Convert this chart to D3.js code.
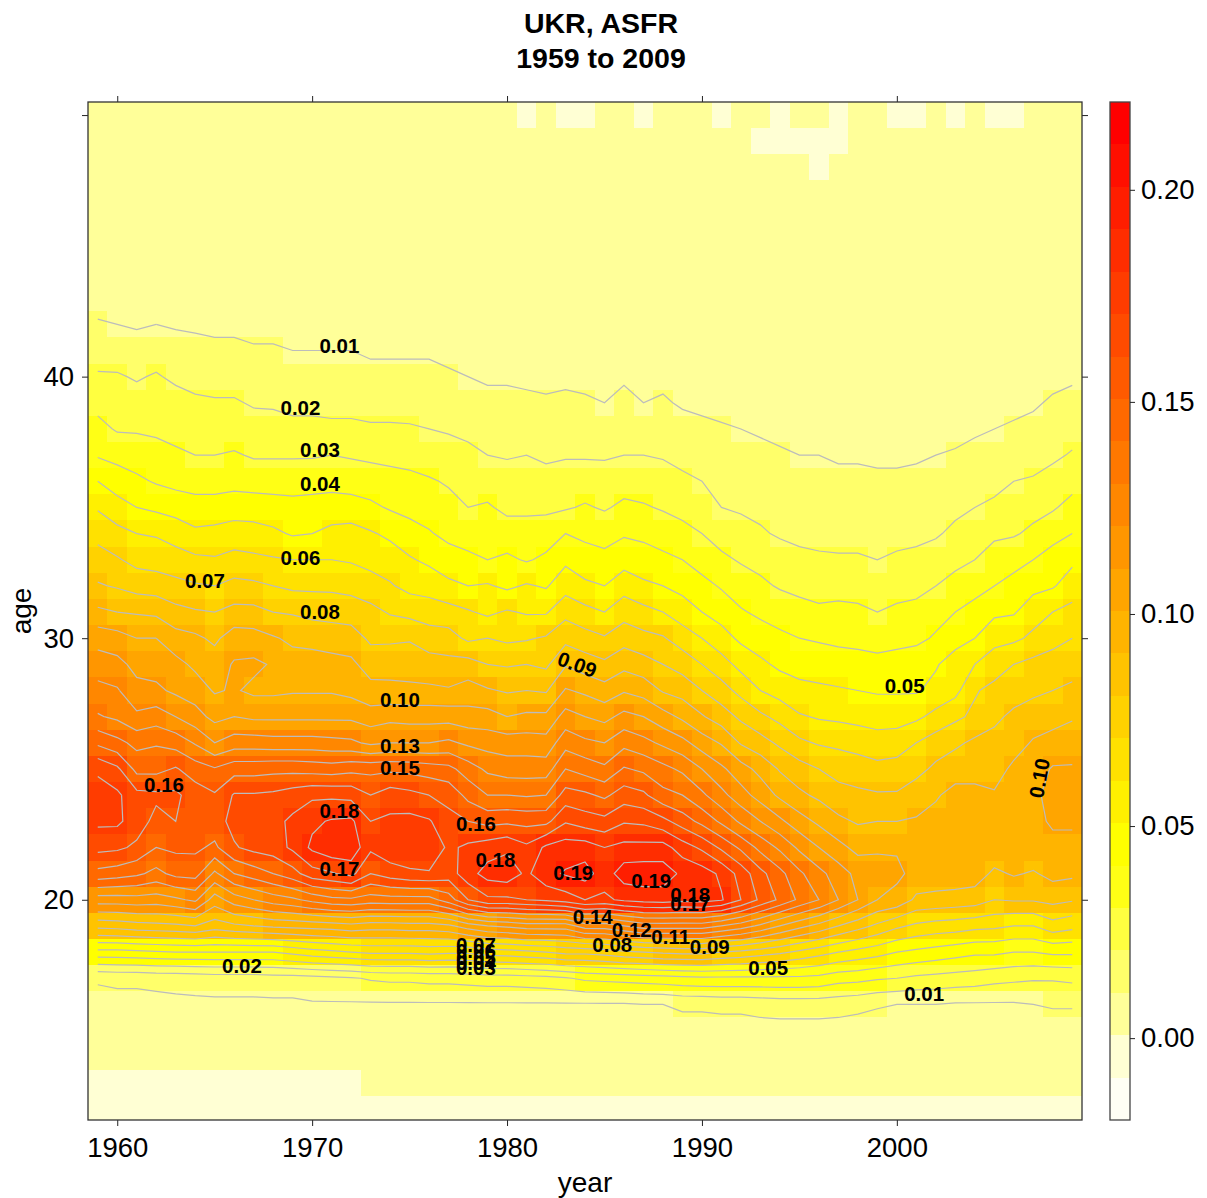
<!DOCTYPE html>
<html>
<head>
<meta charset="utf-8">
<script src="https://cdn.jsdelivr.net/npm/d3@7"></script>
<style>
  body { margin: 0; background: #fff; }
  text { font-family: "Liberation Sans", Arial, sans-serif; fill: #000; }
  .tick line { stroke: #222; }
</style>
</head>
<body>
<div id="chart"></div>
<script>
// years on x, ages on y
const years = d3.range(1959, 2010);
const ages = d3.range(12, 51);

// ASFR, births per 1000 women. one row per age, 1959..2009
const age12 = [0,0,0,0,0,0,0,0,0,0, 0,0,0,0,0,0,0,0,0,0, 0,0,0,0,0,0,0,0,0,0, 0,0,0,0,0,0,0,0,0,0, 0,0,0,0,0,0,0,0,0,0, 0];
const age13 = [0,0,0,0,0,0,0,0,0,0, 0,0,0,0,1,1,1,1,1,1, 1,1,1,1,1,1,1,1,1,1, 1,1,1,1,1,1,1,1,1,1, 1,1,1,1,1,1,1,1,1,1, 1];
const age14 = [2,2,2,2,2,2,2,2,2,2, 2,2,2,2,2,2,2,2,2,2, 2,2,2,2,2,2,2,2,2,2, 3,3,3,3,3,3,3,3,3,3, 3,3,3,3,3,3,3,3,3,3, 3];
const age15 = [3,3,3,3,3,3,4,4,4,4, 4,4,4,4,4,4,4,4,4,4, 4,4,4,4,4,4,4,4,5,5, 5,5,5,5,6,6,6,6,6,5, 5,5,5,5,5,5,5,5,5,5, 5];
const age16 = [7,7,7,7,8,8,8,8,8,8, 8,9,9,9,9,9,9,9,9,9, 9,9,9,9,9,9,9,9,10,10, 12,12,13,13,14,15,15,15,14,13, 11,10,10,10,9,9,9,9,10,11, 11];
const age17 = [11,12,12,13,13,14,15,15,15,16, 16,17,18,19,21,22,22,23,23,24, 25,25,26,27,29,32,33,34,35,36, 37,38,38,38,38,38,38,37,34,33, 31,30,28,27,26,25,23,22,21,21, 22];
const age18 = [47,47,48,49,50,50,50,50,50,50, 53,56,58,60,62,62,62,63,62,62, 65,66,68,70,73,73,75,78,80,82, 83,83,80,78,75,72,68,64,60,57, 54,50,48,46,44,42,42,40,40,42, 42];
const age19 = [83,84,86,87,88,90,85,88,90,92, 93,94,95,97,95,95,96,96,98,105, 110,112,115,115,115,125,125,130,135,135, 135,135,130,125,118,110,103,97,90,84, 78,72,68,66,65,63,62,60,60,66, 63];
const age20 = [115,115,116,115,118,122,105,115,120,125, 128,133,137,138,135,136,136,136,145,160, 168,168,170,172,175,180,178,182,184,185, 183,184,181,170,158,148,138,130,120,110, 100,97,88,87,86,85,80,81,81,83, 81];
const age21 = [147,145,142,137,143,144,128,140,145,150, 156,166,169,173,160,165,168,169,165,176, 184,186,178,187,191,194,185,195,196,195, 188,185,178,166,153,143,132,123,115,107, 103,102,97,96,96,95,88,91,89,93, 92];
const age22 = [163,162,158,150,152,152,148,159,163,165, 172,182,187,187,172,177,178,178,168,172, 175,178,172,182,185,185,180,183,183,184, 175,168,158,148,137,128,118,110,103,97, 99,99,97,96,96,96,97,97,97,98, 98];
const age23 = [172,172,165,157,160,157,156,163,164,167, 172,178,181,182,170,172,173,171,163,160, 157,158,157,157,169,165,163,169,168,163, 155,147,138,128,120,112,104,98,92,89, 90,90,91,93,95,95,95,97,98,101, 101];
const age24 = [175,172,163,162,162,155,151,161,161,162, 165,168,168,167,160,165,163,160,157,147, 140,140,139,140,154,152,148,155,152,143, 140,132,123,114,106,98,92,88,84,82, 81,81,85,89,93,93,91,96,98,103, 103];
const age25 = [168,162,147,147,151,145,141,146,146,147, 147,146,145,147,147,148,147,145,143,135, 128,125,125,125,140,136,132,141,138,133, 128,120,112,104,97,89,84,80,76,75, 73,74,77,82,86,86,86,92,95,101, 101];
const age26 = [148,143,137,139,136,129,120,125,125,124, 124,124,123,122,118,120,120,120,122,118, 116,115,115,114,126,122,120,127,123,118, 113,105,99,89,84,78,72,69,68,66, 64,65,70,75,78,82,83,86,91,93, 95];
const age27 = [131,128,122,125,120,114,107,110,108,108, 108,108,108,108,105,107,106,106,106,104, 104,100,102,102,114,110,107,113,110,104, 98,91,85,78,72,67,61,59,58,57, 56,56,58,63,68,72,78,82,85,87, 89];
const age28 = [123,121,113,112,108,105,99,101,98,98, 99,99,99,97,93,92,92,92,91,94, 91,89,90,89,101,98,94,99,96,89, 86,80,74,67,60,56,53,52,51,50, 49,49,49,53,57,69,73,76,78,80, 82];
const age29 = [115,113,107,106,103,98,95,101,102,99, 94,94,93,92,86,87,86,84,83,84, 80,79,80,78,89,85,82,87,84,80, 76,70,64,57,52,48,46,45,44,44, 43,44,45,49,55,60,65,70,73,74, 76];
const age30 = [106,104,100,100,94,92,88,95,94,91, 88,87,86,85,78,78,79,75,74,68, 70,68,69,71,77,74,71,76,73,71, 65,60,54,48,45,42,40,39,38,37, 36,37,38,41,46,50,57,58,62,67, 70];
const age31 = [92,90,89,88,83,81,80,83,83,80, 79,77,76,75,73,69,67,65,64,61, 58,61,59,59,67,63,60,66,63,60, 55,50,46,41,38,36,34,32,33,32, 30,32,33,37,40,43,48,49,56,60, 63];
const age32 = [81,79,76,75,73,71,70,73,72,70, 68,68,68,67,64,61,57,56,52,50, 51,48,51,49,56,52,50,56,52,50, 47,43,39,35,32,29,27,26,26,26, 25,26,27,30,34,37,40,43,47,49, 55];
const age33 = [74,71,67,66,64,62,61,63,62,61, 60,60,60,59,57,55,51,48,45,43, 40,42,39,42,48,44,43,46,44,42, 40,36,32,29,27,24,22,21,21,21, 20,21,22,24,27,30,35,37,40,45, 48];
const age34 = [67,63,60,59,56,52,53,55,54,52, 49,50,53,54,51,48,44,41,37,34, 35,34,34,35,40,38,36,39,38,36, 33,30,26,23,21,19,18,18,17,17, 17,18,18,19,22,25,28,29,32,36, 40];
const age35 = [59,54,50,48,46,44,44,45,45,44, 43,43,44,44,42,39,37,35,33,30, 31,28,28,28,29,31,29,32,31,29, 27,25,20,19,18,17,16,15,15,15, 14,14,15,16,18,20,22,25,27,29, 33];
const age36 = [50,45,42,39,37,36,36,37,36,36, 36,37,37,36,35,34,33,31,29,27, 26,25,26,24,25,25,24,26,25,25, 22,20,18,17,16,15,14,13,12,12, 11,11,12,13,14,16,17,20,21,24, 27];
const age37 = [39,37,35,34,32,30,30,31,29,29, 29,29,30,29,28,27,26,25,24,22, 20,19,20,18,19,19,19,20,20,19, 17,15,14,13,12,11,10,10,9,9, 9,9,9,10,11,12,13,15,16,18, 21];
const age38 = [33,29,29,28,26,25,25,25,24,23, 22,22,22,22,21,21,21,20,19,18, 16,16,16,15,15,15,15,16,15,15, 13,12,11,10,9,8,7,7,6,6, 6,6,6,7,7,9,10,11,12,14, 16];
const age39 = [27,26,24,25,24,22,21,21,19,19, 18,18,17,17,17,17,16,16,15,13, 12,12,12,11,12,11,10,12,10,11, 9,8,7,7,6,6,5,5,5,4, 4,4,4,5,5,6,7,8,9,11, 12];
const age40 = [21,21,19,21,18,16,16,16,15,14, 13,13,13,13,12,12,12,12,11,10, 9,9,8,8,8,8,7,9,8,8, 7,6,6,5,5,4,4,4,3,3, 3,3,3,3,4,5,5,6,7,8, 9];
const age41 = [16,15,14,15,14,12,12,12,11,11, 10,10,10,10,9,9,9,9,8,7, 7,6,6,6,6,6,5,6,5,5, 5,4,4,3,3,3,3,2,2,2, 2,2,2,2,3,3,3,4,4,5, 6];
const age42 = [11,10,9,10,9,9,8,8,7,7, 7,7,7,7,6,6,6,6,5,5, 4,4,4,4,4,4,3,4,3,3, 3,3,3,2,2,2,2,2,2,1, 1,1,1,1,2,2,2,2,2,3, 3];
const age43 = [6,6,6,6,6,5,5,5,4,4, 4,4,4,4,4,4,4,3,3,2, 2,2,2,2,2,2,2,2,2,2, 2,2,2,1,1,1,1,1,1,1, 1,1,1,1,1,1,1,1,1,2, 2];
const age44 = [3,3,3,3,3,3,3,3,3,3, 2,2,2,2,2,2,2,2,2,2, 2,2,2,1,1,1,1,1,1,1, 1,1,1,1,1,1,1,1,1,1, 1,1,1,1,1,1,1,1,1,1, 1];
const age45 = [2,2,2,2,2,2,2,2,2,2, 1,1,1,1,1,1,1,1,1,1, 1,1,1,1,1,1,1,1,1,1, 1,1,1,1,1,1,1,1,1,1, 1,1,1,1,1,1,1,1,1,1, 1];
const age46 = [1,1,1,1,1,1,1,1,1,1, 1,1,1,1,1,1,1,1,1,1, 1,1,1,1,1,1,1,1,1,1, 1,1,1,1,1,1,1,1,1,1, 1,1,1,1,1,1,1,1,1,1, 1];
const age47 = [1,1,1,1,1,1,1,1,1,1, 1,1,1,1,1,1,1,1,1,1, 1,1,1,1,1,1,1,1,1,1, 1,1,1,1,1,1,1,1,1,1, 1,1,1,1,1,1,1,1,1,1, 1];
const age48 = [1,1,1,1,1,1,1,1,1,1, 1,1,1,1,1,1,1,1,1,1, 1,1,1,1,1,1,1,1,1,1, 1,1,1,1,1,1,1,0,1,1, 1,1,1,1,1,1,1,1,1,1, 1];
const age49 = [1,1,1,1,1,1,1,1,1,1, 1,1,1,1,1,1,1,1,1,1, 1,1,1,1,1,1,1,1,1,1, 1,1,1,1,0,0,0,0,0,1, 1,1,1,1,1,1,1,1,1,1, 1];
const age50 = [1,1,1,1,1,1,1,1,1,1, 1,1,1,1,1,1,1,1,1,1, 1,1,0,1,0,0,1,1,0,1, 1,1,0,1,1,0,1,1,0,1, 1,0,0,1,0,1,0,0,1,1, 1];

const asfrRows = [age12, age13, age14, age15, age16, age17, age18, age19, age20, age21, age22, age23, age24,
  age25, age26, age27, age28, age29, age30, age31, age32, age33, age34, age35, age36, age37, age38, age39,
  age40, age41, age42, age43, age44, age45, age46, age47, age48, age49, age50];

const contourLevels = [0.01, 0.02, 0.03, 0.04, 0.05, 0.06, 0.07, 0.08, 0.09, 0.10,
  0.11, 0.12, 0.13, 0.14, 0.15, 0.16, 0.17, 0.18, 0.19];

// colour bands, bottom of the colour key to the top
const bandColors = ["#FFFFF4", "#FFFFD4", "#FFFF99", "#FFFF6A", "#FFFF40", "#FFFF15", "#FFFF00", "#FFF000",
  "#FFE100", "#FFD200", "#FFC300", "#FFB400", "#FFA500", "#FF9600", "#FF8700", "#FF7800", "#FF6900",
  "#FF5A00", "#FF4B00", "#FF3C00", "#FF2D00", "#FF1E00", "#FF0F00", "#FF0000"];

// the labels R put on the contours
const labelText = ["0.01","0.02","0.03","0.04","0.06","0.07","0.08","0.09","0.10","0.13","0.15","0.16","0.18","0.17",
  "0.16","0.18","0.19","0.19","0.18","0.17","0.14","0.12","0.11","0.08","0.09","0.05","0.01","0.02","0.05","0.10",
  "0.07","0.06","0.05","0.04","0.03"];
const labelYear = [1971.4,1969.4,1970.4,1970.4,1969.4,1964.5,1970.4,1983.6,1974.5,1974.5,1974.5,1962.4,1971.4,1971.4,
  1978.4,1979.4,1983.4,1987.4,1989.4,1989.4,1984.4,1986.4,1988.4,1985.4,1990.4,1993.4,2001.4,1966.4,2000.4,2007.3,
  1978.4,1978.4,1978.4,1978.4,1978.4];
const labelAge = [41.2,38.8,37.2,35.9,33.1,32.2,31,29,27.65,25.9,25.05,24.4,23.4,21.2,
  22.9,21.55,21.05,20.75,20.2,19.85,19.35,18.85,18.6,18.3,18.2,17.4,16.4,17.5,28.2,24.65,
  18.3,18.05,17.8,17.6,17.4];
const labelAngle = {7: 20, 29: -80};

const svgWidth = 1207, svgHeight = 1198;
const plot = { left: 88, right: 1082, top: 102, bottom: 1120 };
const key = { left: 1110, right: 1130 };

const svg = d3.select("#chart").append("svg")
  .attr("width", svgWidth)
  .attr("height", svgHeight);

const x = d3.scaleLinear().domain([1958.5, 2009.5]).range([plot.left, plot.right]);
const y = d3.scaleLinear().domain([11.58, 50.5]).range([plot.bottom, plot.top]);
const keyY = d3.scaleLinear().domain([-0.0193, 0.2207]).range([plot.bottom, plot.top]);
const color = d3.scaleQuantize().domain(keyY.domain()).range(bandColors);

svg.append("defs").append("clipPath").attr("id", "plotClip")
  .append("rect")
  .attr("x", plot.left).attr("y", plot.top)
  .attr("width", plot.right - plot.left).attr("height", plot.bottom - plot.top);

// heat cells
const cells = [];
asfrRows.forEach((row, j) => row.forEach((v, i) => cells.push({ year: years[i], age: ages[j], value: v / 1000 })));

svg.append("g").attr("clip-path", "url(#plotClip)")
  .selectAll("rect").data(cells).enter().append("rect")
  .attr("x", d => x(d.year - 0.5))
  .attr("y", d => y(d.age + 0.5))
  .attr("width", d => x(d.year + 0.5) - x(d.year - 0.5))
  .attr("height", d => y(d.age - 0.5) - y(d.age + 0.5))
  .attr("shape-rendering", "crispEdges")
  .attr("fill", d => color(d.value));

// contour lines, the rings d3 closes along the grid edge have to be opened again
const nx = years.length, ny = ages.length;
const contours = d3.contours().size([nx, ny]).thresholds(contourLevels)(cells.map(d => d.value));

const line = d3.line().x(p => x(years[0] + p[0] - 0.5)).y(p => y(ages[0] + p[1] - 0.5));
const isInside = p => p[0] >= 0.5 && p[0] <= nx - 0.5 && p[1] >= 0.5 && p[1] <= ny - 0.5;

const pieces = [];
contours.forEach(c => {
  c.coordinates.forEach(poly => poly.forEach(ring => {
    let cur = [];
    ring.forEach(p => {
      if (isInside(p)) {
        cur.push(p);
      } else {
        if (cur.length > 1) pieces.push(cur);
        cur = [];
      }
    });
    if (cur.length > 1) pieces.push(cur);
  }));
});

svg.append("g").selectAll("path").data(pieces).enter().append("path")
  .attr("d", line)
  .attr("fill", "none")
  .attr("stroke", "#bcbcbc")
  .attr("stroke-width", 1.2);

// contour labels
svg.append("g").selectAll("text").data(labelText).enter().append("text")
  .attr("transform", (d, i) => `translate(${x(labelYear[i])},${y(labelAge[i])}) rotate(${labelAngle[i] || 0})`)
  .attr("text-anchor", "middle")
  .attr("dy", "0.36em")
  .style("font-size", "20.5px")
  .style("font-weight", "bold")
  .text(d => d);

// axes on all four sides, labels only bottom and left
const tickYears = [1960, 1970, 1980, 1990, 2000];
const tickAges = [20, 30, 40, 50];
const tickSize = 6;

const styleAxis = g => {
  g.select(".domain").remove();
  g.selectAll("text").style("font-size", "27.5px");
};

svg.append("g").attr("transform", `translate(0,${plot.bottom})`)
  .call(d3.axisBottom(x).tickValues(tickYears).tickSize(tickSize).tickPadding(11).tickFormat(d3.format("d")))
  .call(styleAxis);
svg.append("g").attr("transform", `translate(0,${plot.top})`)
  .call(d3.axisTop(x).tickValues(tickYears).tickSize(tickSize).tickFormat(""))
  .call(styleAxis);
svg.append("g").attr("transform", `translate(${plot.left},0)`)
  .call(d3.axisLeft(y).tickValues(tickAges).tickSize(tickSize).tickPadding(8).tickFormat(d => d === 50 ? "" : d))
  .call(styleAxis);
svg.append("g").attr("transform", `translate(${plot.right},0)`)
  .call(d3.axisRight(y).tickValues(tickAges).tickSize(tickSize).tickFormat(""))
  .call(styleAxis);

svg.append("rect")
  .attr("x", plot.left).attr("y", plot.top)
  .attr("width", plot.right - plot.left).attr("height", plot.bottom - plot.top)
  .attr("fill", "none").attr("stroke", "#333").attr("stroke-width", 1.3);

// colour key
svg.append("g").selectAll("rect").data(bandColors).enter().append("rect")
  .attr("x", key.left)
  .attr("width", key.right - key.left)
  .attr("y", d => keyY(color.invertExtent(d)[1]))
  .attr("height", d => keyY(color.invertExtent(d)[0]) - keyY(color.invertExtent(d)[1]))
  .attr("shape-rendering", "crispEdges")
  .attr("fill", d => d);

svg.append("rect")
  .attr("x", key.left).attr("y", plot.top)
  .attr("width", key.right - key.left).attr("height", plot.bottom - plot.top)
  .attr("fill", "none").attr("stroke", "#444").attr("stroke-width", 1.3);

svg.append("g").attr("transform", `translate(${key.right},0)`)
  .call(d3.axisRight(keyY).tickValues([0, 0.05, 0.10, 0.15, 0.20]).tickSize(5).tickPadding(6).tickFormat(d3.format(".2f")))
  .call(styleAxis);

// titles
const titleLines = ["UKR, ASFR", "1959 to 2009"];
svg.append("g").selectAll("text").data(titleLines).enter().append("text")
  .attr("x", 601)
  .attr("y", (d, i) => 33 + i * 35)
  .attr("text-anchor", "middle")
  .style("font-size", "28.5px")
  .style("font-weight", "bold")
  .text(d => d);

svg.append("text")
  .attr("x", 585).attr("y", 1192)
  .attr("text-anchor", "middle")
  .style("font-size", "28px")
  .text("year");

svg.append("text")
  .attr("transform", "translate(31,611) rotate(-90)")
  .attr("text-anchor", "middle")
  .style("font-size", "28px")
  .text("age");
</script>
</body>
</html>
